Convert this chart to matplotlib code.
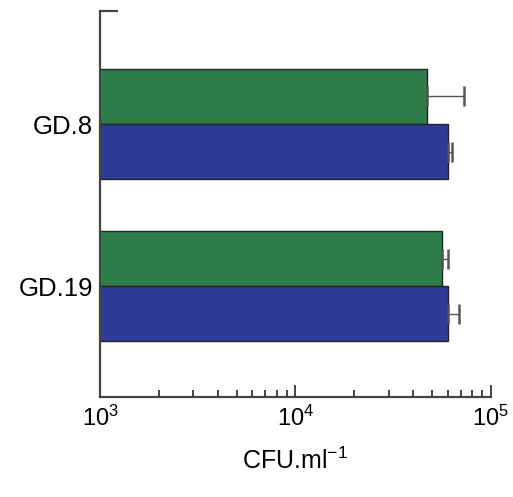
import matplotlib
matplotlib.use("Agg")
import matplotlib.pyplot as plt
import numpy as np

plt.rcParams.update({
    "font.family": "Liberation Sans",
    "mathtext.fontset": "custom",
    "mathtext.rm": "Liberation Sans",
    "mathtext.default": "regular",
})

# ── Data (CFU/ml) ─────────────────────────────────────────────────────────────
strains = ["GD.8", "GD.19"]
green_vals = [47000, 56500]
green_err = [26000, 4000]
blue_vals = [60500, 60000]
blue_err = [3000, 8500]

GREEN = "#2d7d4b"
BLUE = "#2d3c96"
AXIS = "#444444"

fig = plt.figure(figsize=(5.13, 4.97), dpi=100)
ax = fig.add_axes([0.195, 0.201, 0.762, 0.777])

pos = np.arange(len(strains))[::-1].astype(float)   # GD.8 on top
h = 0.34

ax.barh(pos + h / 2, green_vals, height=h, left=0, color=GREEN,
        edgecolor="#222222", linewidth=1.0,
        xerr=[np.zeros(len(green_err)), green_err],
        error_kw=dict(ecolor="#555555", elinewidth=1.0, capsize=7, capthick=1.8))
ax.barh(pos - h / 2, blue_vals, height=h, left=0, color=BLUE,
        edgecolor="#222222", linewidth=1.0,
        xerr=[np.zeros(len(blue_err)), blue_err],
        error_kw=dict(ecolor="#555555", elinewidth=1.0, capsize=7, capthick=1.8))

ax.set_xscale("log")
ax.set_xlim(1e3, 1e5)
ax.set_ylim(-0.685, 1.698)

ax.set_yticks(pos)
ax.set_yticklabels(strains, fontsize=18.5)
ax.tick_params(axis="y", length=0, pad=5)

ax.tick_params(axis="x", which="major", direction="in", length=9, width=1.4,
               color=AXIS, labelsize=17, pad=6)
ax.tick_params(axis="x", which="minor", direction="in", length=5, width=1.4,
               color=AXIS)

for side in ["top", "right"]:
    ax.spines[side].set_visible(False)
for side in ["left", "bottom"]:
    ax.spines[side].set_color(AXIS)
    ax.spines[side].set_linewidth(1.6)

# little stub at the top of the y axis
ax.plot([0, 0.045], [1, 1], transform=ax.transAxes, color=AXIS, lw=1.6,
        clip_on=False, solid_capstyle="butt")

ax.set_xlabel("CFU.ml$^{-1}$", fontsize=18, labelpad=12)

fig.savefig("out.png", dpi=100)
